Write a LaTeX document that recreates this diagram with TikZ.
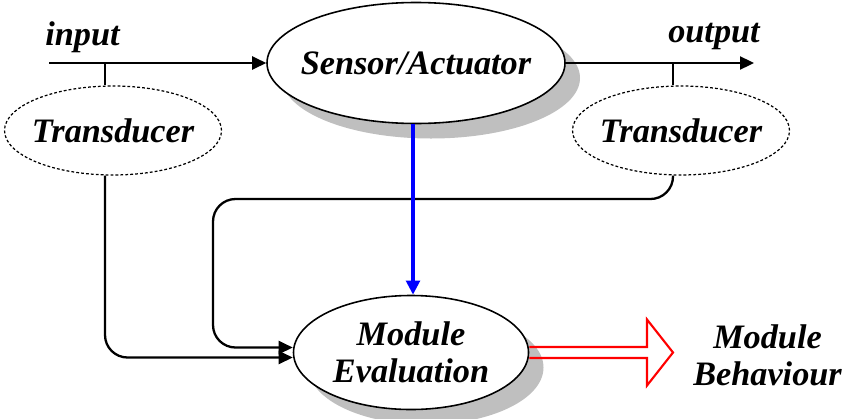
\documentclass[tikz,border=0pt]{standalone}
\usepackage{fontspec}
\setmainfont{Liberation Serif}
\usetikzlibrary{arrows.meta,positioning,calc,shapes.geometric,shadows}

\begin{document}
\begin{tikzpicture}[x=1cm, y=1cm,
  font=\fontsize{19.5}{21}\selectfont\bfseries\itshape,
  block/.style={ellipse, draw, line width=0.9pt, fill=white, inner sep=0pt,
    drop shadow={shadow xshift=0.3cm, shadow yshift=-0.3cm,
      fill=black!25, opacity=1}},
  trans/.style={ellipse, draw, line width=0.7pt,
    dash pattern=on 1.6pt off 1.2pt, inner sep=0pt,
    minimum width=4.34cm, minimum height=1.78cm},
  wire/.style={line width=1.3pt, rounded corners=0.45cm},
  arr/.style={-{Triangle[length=0.28cm, width=0.26cm]}}]
\useasboundingbox (0,0) rectangle (16.84,8.36);
% Sensor with input and output lines
\node[block, minimum width=5.96cm, minimum height=2.42cm] (sensor) at (8.32,7.1)
  {\makebox[4cm]{Sensor/Actuator}};
\coordinate (inp) at (0.98,7.1);
\coordinate (outp) at (15.08,7.1);
\coordinate (tapin) at (2.1,7.1);
\coordinate (tapout) at (13.46,7.1);
\draw[wire, arr] (inp) -- (sensor.west);
\draw[wire, arr] (sensor.east) -- (outp);
\node[anchor=base] (inlbl) at (1.65,7.46) {input};
\node[anchor=base] (outlbl) at (14.28,7.51) {output};
% Transducers
\node[trans] (tdin) at (2.26,5.75) {\makebox[2.8cm]{Transducer}};
\node[trans] (tdout) at (13.62,5.75) {\makebox[2.8cm]{Transducer}};
\draw[wire] (tapin) -- (tapin |- tdin.north);
\draw[wire] (tapout) -- (tapout |- tdout.north);
% Evaluation
\node[block, minimum width=4.7cm, minimum height=2.28cm, align=center]
  (eval) at (8.22,1.31) {Module\\Evaluation};
\draw[wire, arr] (tapin |- tdin.south) |- ([yshift=-0.1cm]eval.west);
\draw[wire, arr] (tapout |- tdout.south) -- (13.46,4.38) -- (4.26,4.38)
  |- ([yshift=0.1cm]eval.west);
\draw[line width=2.6pt, blue, -{Triangle[length=0.28cm, width=0.27cm]}]
  ([xshift=-0.06cm]sensor.south) -- ([xshift=-0.06cm]sensor.south |- eval.north);
% Behaviour
\coordinate (tip) at (13.46,1.31);
\draw[red, line width=1.2pt, line join=miter]
  ([yshift=0.11cm]eval.east) -- (12.94,1.42) -- (12.94,1.97) -- (tip)
  -- (12.94,0.65) -- (12.94,1.2) -- ([yshift=-0.11cm]eval.east);
\node[align=center] (behav) at (15.35,1.26) {Module\\Behaviour};
\end{tikzpicture}
\end{document}
